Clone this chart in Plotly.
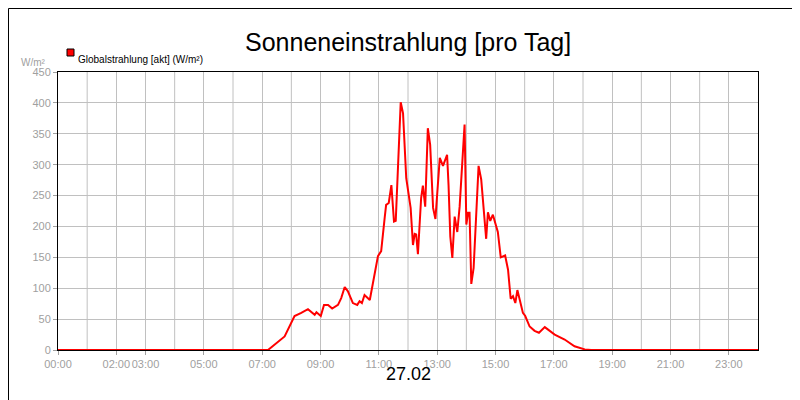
import plotly.graph_objects as go

# time of day (hours) and global radiation (W/m²)
hours = [0, 7.20, 7.77, 8.11, 8.34, 8.57, 8.80, 8.86, 9.01, 9.12, 9.26, 9.40, 9.60, 9.71, 9.83,
         9.94, 10.11, 10.26, 10.34, 10.42, 10.51, 10.69, 10.97, 11.08, 11.20, 11.25, 11.34,
         11.43, 11.52, 11.58, 11.75, 11.83, 11.94, 12.09, 12.17, 12.23, 12.28, 12.34, 12.45,
         12.51, 12.59, 12.68, 12.76, 12.86, 12.94, 13.09, 13.20, 13.34, 13.39, 13.45, 13.52,
         13.60, 13.69, 13.77, 13.94, 14.00, 14.06, 14.11, 14.17, 14.25, 14.42, 14.51, 14.68,
         14.74, 14.82, 14.91, 15.08, 15.18, 15.33, 15.43, 15.52, 15.60, 15.68, 15.75, 15.94,
         16.02, 16.17, 16.34, 16.49, 16.69, 17.03, 17.37, 17.71, 18.06, 18.28, 24]
radiation = [0, 0, 22, 55, 60, 66, 57, 61, 55, 73, 73, 67, 73, 84, 102,
             95, 76, 73, 79, 76, 89, 81, 152, 160, 214, 235, 238,
             267, 208, 209, 401, 383, 278, 230, 170, 188, 187, 155, 246,
             266, 232, 359, 332, 230, 212, 311, 298, 316, 267, 184, 149,
             216, 191, 232, 365, 203, 222, 222, 107, 133, 298, 276, 180,
             223, 209, 219, 191, 150, 153, 130, 83, 87, 76, 97, 60,
             55, 38, 31, 28, 37, 25, 17, 6, 1, 0, 0]

tick_vals = [0, 2, 3, 5, 7, 9, 11, 13, 15, 17, 19, 21, 23]
tick_text = ["00:00", "02:00", "03:00", "05:00", "07:00", "09:00", "11:00",
             "13:00", "15:00", "17:00", "19:00", "21:00", "23:00"]

fig = go.Figure()
fig.add_trace(go.Scatter(x=hours, y=radiation, mode='lines',
                         line=dict(color='#ff0000', width=2), showlegend=False))

grey = '#c0c0c0'
fig.update_layout(
    width=800, height=400, plot_bgcolor='white', paper_bgcolor='white',
    margin=dict(l=50, r=50, t=64, b=58, autoexpand=False),
    font=dict(family='Liberation Sans, Arial', color='#a0a0a0', size=11),
    xaxis=dict(range=[0, 24], tickvals=tick_vals, ticktext=tick_text, tickangle=0,
               automargin=False, showgrid=True, gridcolor=grey, showline=True,
               linecolor='black', mirror=True, ticks='outside', ticklen=4,
               tickcolor='#a0a0a0', zeroline=False),
    yaxis=dict(range=[0, 450], dtick=50, showgrid=True, gridcolor=grey, automargin=False,
               showline=True, linecolor='black', mirror=True, ticks='outside',
               ticklen=4, tickcolor='#a0a0a0', zeroline=False),
)
# extra hourly gridlines (x grid follows tick values only)
for h in range(1, 24):
    if h not in tick_vals:
        fig.add_vline(x=h, line=dict(color=grey, width=1), layer='below')

fig.add_annotation(text="Sonneneinstrahlung [pro Tag]", xref='paper', yref='paper',
                   x=0.5, y=1.0, yshift=46, showarrow=False,
                   font=dict(size=25, color='black'))
fig.add_annotation(text="27.02", xref='paper', yref='paper', x=0.5, y=0, yshift=-36,
                   showarrow=False, font=dict(size=18, color='black'))
fig.add_annotation(text="W/m²", xref='paper', yref='paper', x=0, xshift=-10, y=1,
                   yshift=17, showarrow=False, xanchor='right', font=dict(size=10))
fig.add_annotation(text="Globalstrahlung [akt] (W/m²)", xref='paper', yref='paper',
                   x=0, xshift=18, y=1, yshift=20, showarrow=False, xanchor='left',
                   font=dict(size=10, color='black'))
fig.add_shape(type='rect', xref='paper', yref='paper', x0=9 / 700, x1=16 / 700,
              y0=1 + 16 / 278, y1=1 + 23 / 278, fillcolor='red',
              line=dict(color='black', width=1))
# outer border
fig.add_shape(type='rect', xref='paper', yref='paper', x0=-49.5 / 700, x1=749.5 / 700,
              y0=-57.5 / 278, y1=341.5 / 278, line=dict(color='black', width=1))

fig.write_html("out.html")
